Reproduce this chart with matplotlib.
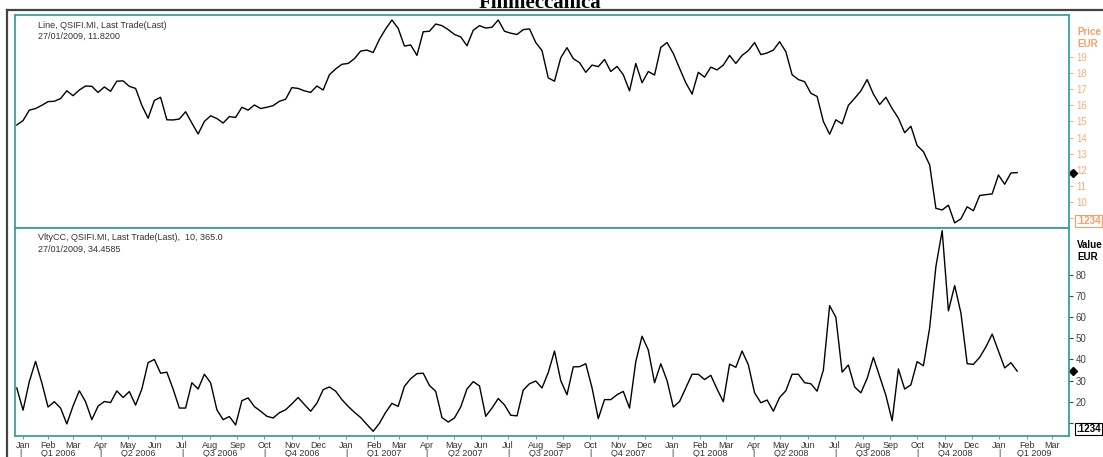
import pandas as pd
import matplotlib
matplotlib.use('Agg')
import matplotlib.pyplot as plt
import matplotlib.transforms as mtransforms
from matplotlib.lines import Line2D

plt.rcParams['font.family'] = ['Liberation Sans', 'DejaVu Sans']

# weekly closes, first week of Jan 2006 to 27/01/2009
price = [
    14.78, 15.05, 15.70, 15.80, 16.00, 16.23, 16.25, 16.42, 16.90, 16.60,
    16.95, 17.20, 17.18, 16.80, 17.14, 16.87, 17.50, 17.52, 17.18, 17.05,
    16.00, 15.20, 16.30, 16.50, 15.10, 15.09, 15.15, 15.60, 14.90, 14.22,
    15.00, 15.35, 15.18, 14.90, 15.30, 15.25, 15.88, 15.70, 16.02, 15.80,
    15.88, 15.98, 16.25, 16.38, 17.10, 17.05, 16.90, 16.80, 17.20, 16.95,
    17.90, 18.26, 18.55, 18.60, 18.90, 19.37, 19.43, 19.28, 20.10, 20.75,
    21.30, 20.78, 19.68, 19.75, 19.10, 20.57, 20.60, 21.05, 20.95, 20.70,
    20.40, 20.25, 19.70, 20.66, 20.95, 20.80, 20.85, 21.30, 20.60, 20.48,
    20.40, 20.70, 20.75, 19.90, 19.40, 17.70, 17.50, 18.95, 19.58, 18.90,
    18.65, 18.05, 18.50, 18.40, 18.85, 18.10, 18.42, 17.90, 16.90, 18.60,
    17.40, 18.10, 17.88, 19.60, 19.90, 19.22, 18.30, 17.40, 16.70, 18.05,
    17.75, 18.37, 18.20, 18.50, 19.10, 18.60, 19.10, 19.40, 19.90, 19.15,
    19.25, 19.43, 19.95, 19.33, 17.90, 17.60, 17.47, 16.75, 16.55, 15.00,
    14.20, 15.10, 14.85, 16.00, 16.43, 16.90, 17.60, 16.70, 16.05, 16.50,
    15.80, 15.20, 14.30, 14.70, 13.50, 13.12, 12.30, 9.60, 9.50, 9.80,
    8.70, 8.95, 9.70, 9.45, 10.40, 10.45, 10.50, 11.67, 11.10, 11.80,
    11.82,
]

# 10-day close-to-close volatility, same weeks
vlty = [
    26.5, 16.0, 29.5, 39.1, 29.0, 17.5, 20.0, 17.0, 9.5, 18.0,
    25.2, 20.0, 11.5, 17.9, 20.1, 19.6, 25.1, 22.0, 24.8, 18.4,
    26.0, 38.5, 40.0, 33.5, 34.0, 26.0, 17.0, 17.0, 29.0, 26.0,
    33.0, 29.0, 16.2, 11.5, 13.0, 9.0, 20.5, 21.8, 17.7, 15.5,
    13.1, 12.3, 14.8, 16.2, 19.0, 22.0, 18.7, 15.5, 19.3, 25.7,
    27.0, 25.0, 21.0, 17.8, 15.0, 12.5, 9.2, 6.0, 9.8, 15.0,
    19.2, 17.8, 27.3, 30.9, 33.3, 33.5, 27.7, 24.9, 12.5, 10.4,
    12.3, 17.5, 26.0, 29.5, 27.5, 13.1, 17.0, 21.5, 18.5, 13.6,
    13.3, 25.5, 28.5, 29.8, 26.5, 33.8, 44.0, 30.0, 23.3, 36.5,
    36.6, 38.0, 26.6, 12.0, 21.0, 21.0, 23.3, 24.9, 17.0, 39.0,
    51.0, 44.5, 29.0, 38.0, 30.0, 17.5, 20.1, 26.5, 33.0, 33.0,
    30.5, 32.5, 26.0, 20.0, 37.8, 36.3, 44.0, 37.5, 24.2, 19.5,
    20.8, 15.5, 22.0, 25.2, 33.0, 33.0, 29.0, 28.5, 25.0, 35.0,
    65.5, 60.0, 34.0, 37.4, 27.0, 24.2, 31.0, 41.0, 32.0, 23.0,
    11.0, 35.5, 26.0, 28.0, 39.0, 37.0, 55.0, 84.0, 101.0, 63.0,
    75.0, 62.0, 38.0, 37.7, 41.0, 46.0, 52.0, 44.0, 36.0, 38.5,
    34.4585,
]

price_ticks = list(range(9, 20))
vlty_ticks = list(range(10, 90, 10))

dates = pd.date_range('2006-01-03', periods=len(price), freq='7D')
x_left = pd.Timestamp('2006-01-01')
x_right = pd.Timestamp('2009-03-26')

teal = '#3c9f9b'
orange = '#f4a06a'
orange_light = '#f5ad80'

W, H = 1103, 457


def rect(l, t, r, b):
    return [l / W, 1 - b / H, (r - l) / W, (b - t) / H]


fig = plt.figure(figsize=(W / 100, H / 100), dpi=100)
ax1 = fig.add_axes(rect(15, 15, 1069, 228))
ax2 = fig.add_axes(rect(15, 228, 1069, 436), sharex=ax1)

for ax in (ax1, ax2):
    for s in ax.spines.values():
        s.set_color(teal)
        s.set_linewidth(1.3)
    ax.yaxis.tick_right()

# price panel
ax1.plot(dates, price, color='black', lw=1.0)
ax1.set_xlim(x_left, x_right)
ax1.set_ylim(8.38, 21.61)
ax1.set_yticks(price_ticks)
ax1.set_yticklabels(['' if v == 9 else str(v) for v in price_ticks])
ax1.tick_params(axis='y', length=3, width=0.8, color=orange_light,
                labelcolor=orange_light, labelsize=7, pad=2)
ax1.tick_params(axis='x', bottom=False, labelbottom=False)

tr1 = mtransforms.blended_transform_factory(ax1.transAxes, ax1.transData)
ax1.plot([1.0035], [price[-1]], marker='D', ms=4.5, color='black',
         transform=tr1, clip_on=False)

fig.text(38 / W, 1 - 25 / H, 'Line, QSIFI.MI, Last Trade(Last)',
         fontsize=6.5, color='#333333', va='center')
fig.text(38 / W, 1 - 36 / H, '27/01/2009, 11.8200',
         fontsize=6.5, color='#333333', va='center')
fig.text(1077 / W, 1 - 32 / H, 'Price', fontsize=7, weight='bold',
         color=orange, va='center')
fig.text(1077 / W, 1 - 44 / H, 'EUR', fontsize=7, weight='bold',
         color=orange, va='center')
fig.text(1076 / W, 1 - 221 / H, '.1234', fontsize=7, weight='bold',
         color=orange, va='center',
         bbox=dict(boxstyle='square,pad=0.12', fc='white', ec=orange, lw=0.8))

# volatility panel
ax2.plot(dates, vlty, color='black', lw=1.0)
ax2.set_ylim(3.77, 102.25)
ax2.set_yticks(vlty_ticks)
ax2.set_yticklabels(['' if v == 10 else str(v) for v in vlty_ticks])
ax2.tick_params(axis='y', length=3, width=0.8, color='#444444',
                labelcolor='#444444', labelsize=7, pad=2)

tr2 = mtransforms.blended_transform_factory(ax2.transAxes, ax2.transData)
ax2.plot([1.0035], [vlty[-1]], marker='D', ms=4.5, color='black',
         transform=tr2, clip_on=False)

fig.text(38 / W, 1 - 237 / H, 'VltyCC, QSIFI.MI, Last Trade(Last),  10, 365.0',
         fontsize=6.5, color='#333333', va='center')
fig.text(38 / W, 1 - 249 / H, '27/01/2009, 34.4585',
         fontsize=6.5, color='#333333', va='center')
fig.text(1077 / W, 1 - 245 / H, 'Value', fontsize=7, weight='bold',
         color='black', va='center')
fig.text(1077 / W, 1 - 257 / H, 'EUR', fontsize=7, weight='bold',
         color='black', va='center')
fig.text(1076 / W, 1 - 429 / H, '.1234', fontsize=7, weight='bold',
         color='black', va='center',
         bbox=dict(boxstyle='square,pad=0.12', fc='white', ec='black', lw=0.8))

# month and quarter labels
shift = pd.Timedelta(days=6)
months = pd.date_range('2006-01-01', '2009-03-01', freq='MS')
month_pos = [max(m + shift, x_left + pd.Timedelta(days=9)) for m in months]
ax2.set_xticks(month_pos)
ax2.set_xticklabels([m.strftime('%b') for m in months])
ax2.tick_params(axis='x', length=2, width=0.6, color='#777777',
                labelcolor='#333333', labelsize=6.5, pad=1.5)

trq = mtransforms.blended_transform_factory(ax2.transData, ax2.transAxes)
quarters = pd.date_range('2006-01-01', '2009-01-01', freq='QS')
for q in quarters:
    sep = max(q + shift, pd.Timestamp('2006-01-03'))
    ax2.text(sep, -0.083, '|', transform=trq, ha='center', va='center',
             fontsize=6.5, color='#333333', clip_on=False)
    end = min(q + pd.DateOffset(months=3), x_right)
    mid = q + (end - q) / 2 + pd.Timedelta(days=3)
    ax2.text(mid, -0.083, f'Q{(q.month - 1) // 3 + 1} {q.year}', transform=trq,
             ha='center', va='center', fontsize=6.5, color='#333333', clip_on=False)

# outer frame and title (the title sits partly above the top edge, as in the source)
fig.add_artist(Line2D([7 / W, 7 / W], [0, 1 - 10 / H], color='#444444', lw=1.6))
fig.add_artist(Line2D([7 / W, 1], [1 - 10 / H, 1 - 10 / H], color='#444444', lw=1.6))
fig.text(540 / W, 1 - 8 / H, 'Finmeccanica', ha='center', va='baseline',
         family='Liberation Serif', weight='bold', fontsize=15)

fig.savefig('out.png', dpi=100, facecolor='white')
